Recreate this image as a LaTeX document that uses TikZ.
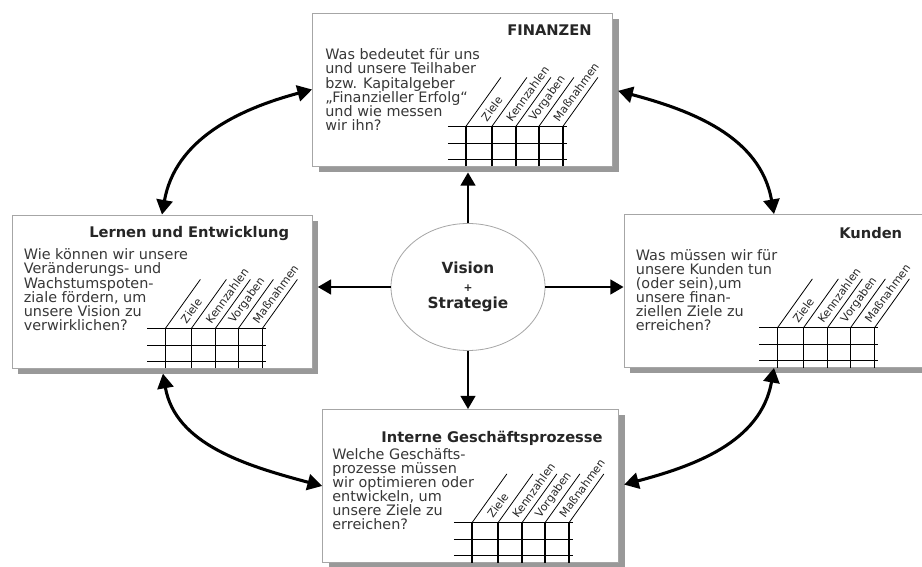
\documentclass[tikz,border=0pt]{standalone}
\usepackage{fontspec}
\setmainfont{DejaVu Sans}
\usetikzlibrary{arrows.meta,calc,shadows,shapes.geometric}

% grid with the four rotated column heads, hung on the lower right corner of a box
\newcommand{\kpigrid}[1]{%
  \foreach \h in {40,23,7}
    \draw[gridline] ($(#1.south east)+(-165,\h)$) -- ++(119,0);
  \foreach \v in {-147,-121,-97,-74,-50}
    \draw[gridline] ($(#1.south east)+(\v,0)$) -- ++(0,40);
  \foreach \v in {-147,-121,-97,-74,-50}
    \draw[diagline] ($(#1.south east)+(\v,40)$) -- ++(35,49);
  \foreach \v/\w/\lbl in {-147/-121/Ziele,-121/-97/Kennzahlen,-97/-74/Vorgaben,-74/-50/Maßnahmen}
    \node[colhd] at ($(#1.south east)+({(\v+\w)/2},40)+(54:8)$) {\lbl};
}

\begin{document}
\begin{tikzpicture}[x=0.75pt,y=0.75pt,>=Stealth]
  \tikzset{
    bsc/.style={draw=gray!70,line width=0.6pt,fill=white,inner sep=0pt,
      minimum width=225pt,minimum height=114.75pt,
      drop shadow={shadow xshift=4.5pt,shadow yshift=-4.5pt,fill=gray!80,opacity=1}},
    ttl/.style={font=\bfseries\fontsize{11}{12}\selectfont,anchor=base east,inner sep=0pt,text=black!85},
    qtxt/.style={font=\fontsize{10.8}{10.6}\selectfont,align=left,anchor=north west,inner sep=0pt,text=black!78},
    colhd/.style={font=\fontsize{8.3}{9}\selectfont,rotate=54,anchor=west,inner sep=0pt,text=black!85},
    gridline/.style={line width=0.9pt},
    diagline/.style={line width=0.6pt},
    arr/.style={line width=2pt,-{Triangle[length=10pt,width=11pt]}},
    darr/.style={line width=2.3pt,{Triangle[length=11pt,width=12pt]}-{Triangle[length=11pt,width=12pt]}}
  }
  \useasboundingbox (0,0) rectangle (922,567);
  \clip (0,0) rectangle (922,567);

  % the four perspectives
  \node[bsc] (fin) at (462.5,477.5) {};
  \node[bsc] (lern) at (162,275.5) {};
  \node[bsc] (kund) at (774,276) {};
  \node[bsc,minimum width=222pt] (intern) at (470.5,81) {};

  % Finanzen
  \node[ttl] (finT) at ($(fin.north east)+(-21,-23)$) {FINANZEN};
  \node[qtxt] (finQ) at ($(fin.north west)+(13,-36)$)
    {Was bedeutet für uns\\und unsere Teilhaber\\bzw. Kapitalgeber\\„Finanzieller Erfolg“\\und wie messen\\wir ihn?};
  \kpigrid{fin}

  % Lernen und Entwicklung
  \node[ttl] (lernT) at ($(lern.north east)+(-23,-23)$) {Lernen und Entwicklung};
  \node[qtxt] (lernQ) at ($(lern.north west)+(12,-34)$)
    {Wie können wir unsere\\Veränderungs- und\\Wachstumspoten-\\ziale fördern, um\\unsere Vision zu\\verwirklichen?};
  \kpigrid{lern}

  % Kunden
  \node[ttl] (kundT) at ($(kund.north east)+(-22,-24)$) {Kunden};
  \node[qtxt] (kundQ) at ($(kund.north west)+(12,-35)$)
    {Was müssen wir für\\unsere Kunden tun\\(oder sein),um\\unsere finan-\\ziellen Ziele zu\\erreichen?};
  \kpigrid{kund}

  % Interne Geschaeftsprozesse
  \node[ttl] (internT) at ($(intern.north east)+(-16,-33)$) {Interne Geschäftsprozesse};
  \node[qtxt] (internQ) at ($(intern.north west)+(10,-39)$)
    {Welche Geschäfts-\\prozesse müssen\\wir optimieren oder\\entwickeln, um\\unsere Ziele zu\\erreichen?};
  \kpigrid{intern}

  % Vision + Strategie
  \node[ellipse,draw=gray!70,line width=0.6pt,fill=white,minimum width=115.5pt,minimum height=95.25pt,
    align=center,font=\bfseries\fontsize{11.5}{13}\selectfont,text=black!85] (ctr) at (468,280)
    {Vision\\{\fontsize{8}{8}\selectfont+}\\Strategie};

  % straight arrows
  \draw[arr,shorten >=4.5pt] (ctr.north) -- (ctr.north |- fin.south);
  \draw[arr,shorten >=4pt] (ctr.west) -- (ctr.west -| lern.east);
  \draw[arr] (ctr.east) -- (ctr.east -| kund.west);
  \draw[arr] (ctr.south) -- (ctr.south |- intern.north);

  % curved double arrows
  \draw[darr] (lern.north) to[out=80,in=195] (fin.west);
  \draw[darr,shorten <=4pt] (fin.east) to[out=-15,in=100] (kund.north);
  \draw[darr,shorten <=4pt] (lern.south) to[out=-80,in=165] (intern.west);
  \draw[darr,shorten >=4pt] (kund.south) to[out=-100,in=15] (intern.east);
\end{tikzpicture}
\end{document}
